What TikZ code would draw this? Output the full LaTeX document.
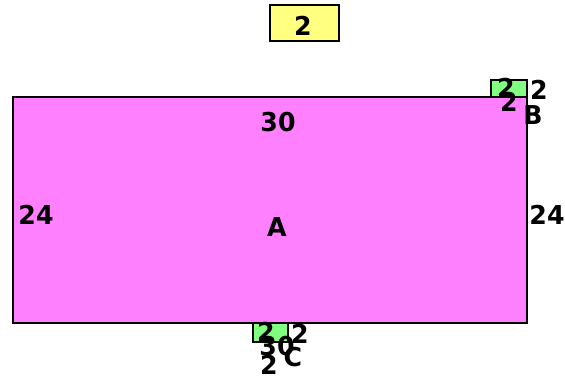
\documentclass[tikz,border=0pt]{standalone}
\usepackage{fontspec}
\setmainfont{DejaVu Sans}
\definecolor{mag}{HTML}{FF80FF}
\definecolor{yel}{HTML}{FFFF80}
\definecolor{grn}{HTML}{80FF80}
\newcommand{\widetxt}[1]{\scalebox{0.97}[1]{#1}}
\begin{document}
\begin{tikzpicture}[x=1pt,y=-1pt,
  lbl/.style={inner sep=0pt,font=\fontsize{26}{26}\selectfont\bfseries},
  boxst/.style={draw=black,line width=1.3pt}]
\useasboundingbox (0,0) rectangle (565,377);
\draw[boxst,fill=mag] (13,97) rectangle (527,323);
\node[boxst,fill=yel,minimum width=69pt,minimum height=36pt,inner sep=0pt] (Y) at (304.5,23) {};
\draw[boxst,fill=grn] (491,80) rectangle (527,97);
\draw[boxst,fill=grn] (253,323) rectangle (288,342);
\node[lbl] (ylab) at (303,26) {\widetxt{2}};
\node[lbl] (a30) at (278,122) {\widetxt{30}};
\node[lbl] (a24l) at (36,215) {\widetxt{24}};
\node[lbl] (aA) at (277,227) {\widetxt{A}};
\node[lbl] (a24r) at (547,215) {\widetxt{24}};
\node[lbl] (b2i) at (506,88) {\widetxt{2}};
\node[lbl] (b2r) at (539,90) {\widetxt{2}};
\node[lbl] (b2b) at (509,102) {\widetxt{2}};
\node[lbl] (bB) at (533,115) {\widetxt{B}};
\node[lbl] (c2i) at (266,332) {\widetxt{2}};
\node[lbl] (c2r) at (300,334) {\widetxt{2}};
\node[lbl] (c30) at (277,346) {\widetxt{30}};
\node[lbl] (cC) at (293,357) {\widetxt{C}};
\node[lbl] (c2b) at (269,365) {\widetxt{2}};
\end{tikzpicture}
\end{document}
